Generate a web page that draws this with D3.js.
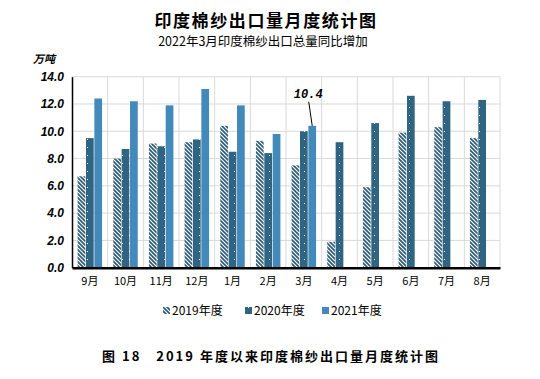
<!DOCTYPE html>
<html><head><meta charset="utf-8">
<script src="https://cdn.jsdelivr.net/npm/d3@7"></script>
<style>body{margin:0;background:#fff}svg{display:block}</style>
</head><body>
<script>
const categories = ["9月","10月","11月","12月","1月","2月","3月","4月","5月","6月","7月","8月"];
const seriesNames = ["2019年度","2020年度","2021年度"];
const v2019 = [6.7,8.0,9.1,9.2,10.4,9.3,7.5,1.9,5.9,9.9,10.3,9.5];
const v2020 = [9.5,8.7,8.9,9.4,8.5,8.4,10.0,9.2,10.6,12.6,12.2,12.3];
const v2021 = [12.4,12.2,11.9,13.1,11.9,9.8,10.4,null,null,null,null,null];
const yTicks = [0,2,4,6,8,10,12,14];
const annotation = {cat:"3月", series:"2021年度", text:"10.4"};

const W=540,H=379;
const svg=d3.select("body").append("svg").attr("width",W).attr("height",H);
const defs=svg.append("defs");
const dark="#2b5a78", mid="#2f6583", light="#4389b9";
const p1=defs.append("pattern").attr("id","stripe").attr("patternUnits","userSpaceOnUse")
 .attr("width",4).attr("height",4);
p1.append("rect").attr("width",4).attr("height",4).attr("fill","#fff");
p1.append("path").attr("d","M-1,-1L5,5M-1,3L1,5M3,-1L5,1").attr("stroke",dark).attr("stroke-width",1.7);
const p2=defs.append("pattern").attr("id","dots").attr("patternUnits","userSpaceOnUse")
 .attr("width",7).attr("height",8);
p2.append("rect").attr("width",7).attr("height",8).attr("fill",mid);
p2.append("rect").attr("x",3).attr("y",3).attr("width",1).attr("height",1).attr("fill","#fff");
const fills=["url(#stripe)","url(#dots)",light];

const L=72,R=500,T=76.7,B=267.7;
const x0=d3.scaleBand().domain(categories).range([L,R]);
const y=d3.scaleLinear().domain([0,14]).range([B,T]);
const gw=24.5;
const x1=d3.scaleBand().domain(seriesNames).range([0,gw]).paddingInner(0.08);
const off=(x0.bandwidth()-gw)/2;

// grid
const g=svg.append("g");
g.selectAll(".hg").data(yTicks.slice(1)).join("line")
 .attr("x1",L).attr("x2",R).attr("y1",d=>y(d)).attr("y2",d=>y(d))
 .attr("stroke","#d9d9d9").attr("stroke-width",1);
g.selectAll(".vg").data(categories).join("line")
 .attr("x1",d=>x0(d)+x0.bandwidth()).attr("x2",d=>x0(d)+x0.bandwidth())
 .attr("y1",T).attr("y2",B).attr("stroke","#d9d9d9").attr("stroke-width",1);

// bars
const data=[v2019,v2020,v2021];
data.forEach((arr,si)=>{
  svg.append("g").selectAll("rect").data(categories.map((c,i)=>({c,v:arr[i]})).filter(d=>d.v!=null))
   .join("rect")
   .attr("x",d=>x0(d.c)+off+x1(seriesNames[si]))
   .attr("width",x1.bandwidth())
   .attr("y",d=>y(d.v)).attr("height",d=>B-y(d.v))
   .attr("fill",fills[si]);
});

// axes
const ya=d3.axisLeft(y).tickValues(yTicks).tickFormat(d3.format(".1f")).tickSize(0).tickPadding(8);
const yg=svg.append("g").attr("transform",`translate(${L},0)`).call(ya);
yg.select(".domain").attr("stroke","#000").attr("stroke-width",1.5);
yg.selectAll("text").attr("font-family","Liberation Sans, Arial").attr("font-size",12)
 .attr("font-weight","bold").attr("font-style","italic").attr("fill","#000");
const xa=d3.axisBottom(x0).tickSize(0).tickPadding(10);
const xg=svg.append("g").attr("transform",`translate(0,${B})`).call(xa);
xg.select(".domain").attr("stroke","#000").attr("stroke-width",2.5);
xg.selectAll("text").attr("font-family","Noto Sans CJK SC").attr("font-size",11).attr("fill","#000");

// annotation
const ai=categories.indexOf(annotation.cat), asi=seriesNames.indexOf(annotation.series);
const ax=x0(annotation.cat)+off+x1(annotation.series)+x1.bandwidth()/2;
const ay=y(data[asi][ai]);
svg.append("line").attr("x1",ax-3.5).attr("y1",ay-24).attr("x2",ax).attr("y2",ay)
 .attr("stroke","#000").attr("stroke-width",1);
svg.append("text").attr("x",ax-4).attr("y",ay-28).attr("text-anchor","middle")
 .attr("font-family","Liberation Mono").attr("font-weight","bold").attr("font-style","italic")
 .attr("font-size",12).text(annotation.text);

// titles
svg.append("text").attr("x",266).attr("y",27).attr("text-anchor","middle")
 .attr("font-family","Noto Sans CJK SC").attr("font-weight","bold").attr("font-size",17)
 .attr("letter-spacing",1.6).text("印度棉纱出口量月度统计图");
svg.append("text").attr("x",263).attr("y",46).attr("text-anchor","middle")
 .attr("font-family","Noto Sans CJK SC").attr("font-size",12.5).text("2022年3月印度棉纱出口总量同比增加");
svg.append("text").attr("x",33).attr("y",63)
 .attr("font-family","Noto Sans CJK SC").attr("font-weight","bold").attr("font-style","italic").attr("font-size",11).text("万吨");

// legend
const legX=[163,245,322];
const lg=svg.append("g");
seriesNames.forEach((s,i)=>{
  lg.append("rect").attr("x",legX[i]).attr("y",307).attr("width",7).attr("height",7).attr("fill",fills[i]);
  lg.append("text").attr("x",legX[i]+9).attr("y",315).attr("font-family","Noto Sans CJK SC")
   .attr("font-size",12).text(s);
});

// caption
svg.append("text").attr("x",271).attr("y",361).attr("text-anchor","middle")
 .attr("font-family","Noto Sans CJK SC").attr("font-weight","bold").attr("font-size",13)
 .attr("letter-spacing",2).attr("xml:space","preserve").text("图 18   2019 年度以来印度棉纱出口量月度统计图");
</script>
</body></html>
